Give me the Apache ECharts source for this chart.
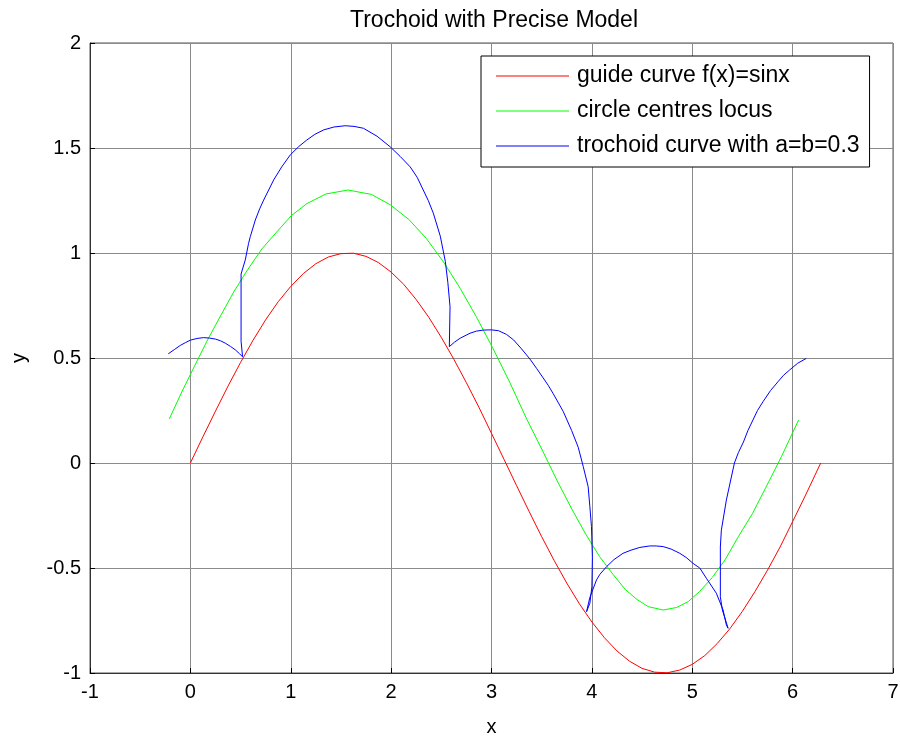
<!DOCTYPE html>
<html>
<head>
<meta charset="utf-8">
<script src="https://cdn.jsdelivr.net/npm/echarts@6/dist/echarts.min.js"></script>
<style>
html,body{margin:0;padding:0;background:#fff;}
#chart{width:900px;height:738px;}
</style>
</head>
<body>
<div id="chart"></div>
<script>
// Guide curve f(x)=sinx
const redX = [0, 0.125, 0.25, 0.375, 0.5, 0.625, 0.75, 0.875, 1.0, 1.125, 1.25, 1.375, 1.5, 1.625, 1.75, 1.875, 2.0, 2.125, 2.25, 2.375, 2.5, 2.625, 2.75, 2.875, 3.0, 3.125, 3.25, 3.375, 3.5, 3.625, 3.75, 3.875, 4.0, 4.125, 4.25, 4.375, 4.5, 4.625, 4.75, 4.875, 5.0, 5.125, 5.25, 5.375, 5.5, 5.625, 5.75, 5.875, 6.0, 6.125, 6.28];
const redY = [0, 0.125, 0.247, 0.366, 0.479, 0.585, 0.682, 0.768, 0.841, 0.902, 0.949, 0.981, 0.997, 0.999, 0.984, 0.954, 0.909, 0.851, 0.778, 0.694, 0.598, 0.494, 0.382, 0.265, 0.141, 0.017, -0.108, -0.231, -0.351, -0.465, -0.572, -0.670, -0.757, -0.832, -0.895, -0.944, -0.978, -0.996, -0.999, -0.986, -0.959, -0.917, -0.859, -0.789, -0.706, -0.612, -0.510, -0.400, -0.279, -0.157, 0];

// Circle centres locus
const greenX = [-0.21, -0.086, 0.04, 0.171, 0.30, 0.436, 0.57, 0.713, 0.86, 1.006, 1.16, 1.35, 1.57, 1.803, 1.99, 2.176, 2.35, 2.522, 2.69, 2.848, 3.01, 3.181, 3.35, 3.511, 3.66, 3.80, 3.94, 4.076, 4.21, 4.332, 4.45, 4.562, 4.71, 4.845, 4.96, 5.073, 5.20, 5.327, 5.46, 5.601, 5.74, 5.89, 6.06];
const greenY = [0.21, 0.338, 0.46, 0.586, 0.70, 0.818, 0.92, 1.02, 1.10, 1.178, 1.235, 1.281, 1.30, 1.279, 1.23, 1.16, 1.07, 0.957, 0.83, 0.697, 0.55, 0.385, 0.21, 0.056, -0.09, -0.219, -0.34, -0.445, -0.53, -0.602, -0.65, -0.684, -0.70, -0.688, -0.66, -0.612, -0.545, -0.461, -0.35, -0.24, -0.11, 0.032, 0.205];

// Trochoid curve with a=b=0.3
const blueX = [-0.22, -0.16, -0.1, -0.05, 0.0, 0.065, 0.13, 0.19, 0.25, 0.30, 0.35, 0.40, 0.45, 0.49, 0.52,
  0.505, 0.505, 0.547, 0.58, 0.597, 0.647, 0.69, 0.73, 0.78, 0.83, 0.91, 0.995, 1.08, 1.16, 1.24, 1.327, 1.43, 1.542, 1.63, 1.724, 1.86, 1.99, 2.09, 2.19, 2.26, 2.32, 2.37, 2.42, 2.49, 2.54, 2.565, 2.587,
  2.58, 2.57, 2.63, 2.687, 2.786, 2.85, 2.92, 3.0, 3.07, 3.15, 3.22, 3.30, 3.383, 3.45, 3.515, 3.565, 3.615, 3.715, 3.798, 3.864, 3.914, 3.963, 3.98, 3.996, 4.005, 4.0, 3.98, 3.947,
  3.98, 4.046, 4.08, 4.146, 4.22, 4.31, 4.39, 4.478, 4.577, 4.64, 4.71, 4.79, 4.876, 4.94, 5.008, 5.075, 5.141, 5.24, 5.307, 5.34, 5.357,
  5.30, 5.28, 5.28, 5.29, 5.34, 5.42, 5.46, 5.51, 5.555, 5.605, 5.65, 5.705, 5.78, 5.854, 5.91, 5.97, 6.05, 6.136];
const blueY = [0.52, 0.54, 0.56, 0.573, 0.585, 0.593, 0.597, 0.595, 0.59, 0.582, 0.57, 0.555, 0.538, 0.52, 0.506,
  0.58, 0.90, 0.967, 1.046, 1.078, 1.157, 1.21, 1.252, 1.30, 1.348, 1.41, 1.467, 1.507, 1.538, 1.565, 1.586, 1.60, 1.606, 1.603, 1.594, 1.556, 1.506, 1.46, 1.41, 1.36, 1.30, 1.25, 1.19, 1.08, 0.96, 0.86, 0.744,
  0.554, 0.546, 0.575, 0.594, 0.618, 0.628, 0.633, 0.634, 0.63, 0.612, 0.586, 0.543, 0.495, 0.45, 0.405, 0.37, 0.33, 0.245, 0.155, 0.075, -0.017, -0.113, -0.208, -0.303, -0.45, -0.59, -0.668, -0.708,
  -0.64, -0.557, -0.53, -0.494, -0.46, -0.43, -0.415, -0.402, -0.395, -0.395, -0.398, -0.41, -0.43, -0.45, -0.478, -0.50, -0.549, -0.62, -0.70, -0.771, -0.787,
  -0.70, -0.637, -0.40, -0.32, -0.176, 0.0, 0.05, 0.10, 0.155, 0.205, 0.25, 0.292, 0.345, 0.387, 0.418, 0.443, 0.475, 0.498];

const xTicks = {min: -1, max: 7, interval: 1};
const yTicks = {min: -1, max: 2, interval: 0.5};

function pairs(xs, ys) { return xs.map((x, i) => [x, ys[i]]); }

const chart = echarts.init(document.getElementById('chart'), null, {renderer: 'canvas'});
const font = 'Liberation Sans, Arial, Helvetica, sans-serif';
chart.setOption({
  animation: false,
  backgroundColor: '#fff',
  title: {
    text: 'Trochoid with Precise Model',
    left: 489, top: 4, textAlign: 'center',
    textStyle: {fontFamily: font, fontSize: 23, fontWeight: 'normal', color: '#000'}
  },
  grid: {left: 90, right: 7, top: 43, bottom: 65, show: true, borderColor: '#555', borderWidth: 1,
    backgroundColor: 'transparent', outerBoundsMode: 'none', containLabel: false},
  legend: {
    orient: 'vertical',
    left: 481, top: 56,
    padding: [8, 10, 9, 15],
    itemWidth: 73, itemHeight: 1, itemGap: 11,
    icon: 'rect',
    backgroundColor: '#fff',
    borderColor: '#000', borderWidth: 1,
    textStyle: {fontFamily: font, fontSize: 23, color: '#000', lineHeight: 24, padding: [0, 0, 0, 3]},
    data: ['guide curve f(x)=sinx', 'circle centres locus', 'trochoid curve with a=b=0.3']
  },
  xAxis: {
    type: 'value', min: xTicks.min, max: xTicks.max, interval: xTicks.interval,
    name: 'x', nameLocation: 'middle', nameGap: 44,
    nameTextStyle: {fontFamily: font, fontSize: 20, color: '#000'},
    axisLine: {show: true, onZero: false, lineStyle: {color: '#333', width: 1}},
    axisTick: {show: true, inside: true, length: 5, lineStyle: {color: '#000'}},
    axisLabel: {fontFamily: font, fontSize: 20, color: '#000', margin: 9},
    splitLine: {show: true, lineStyle: {color: '#8a8a8a', width: 1}}
  },
  yAxis: {
    type: 'value', min: yTicks.min, max: yTicks.max, interval: yTicks.interval,
    name: 'y', nameLocation: 'middle', nameGap: 61,
    nameTextStyle: {fontFamily: font, fontSize: 20, color: '#000'},
    axisLine: {show: true, onZero: false, lineStyle: {color: '#333', width: 1}},
    axisTick: {show: true, inside: true, length: 5, lineStyle: {color: '#000'}},
    axisLabel: {fontFamily: font, fontSize: 20, color: '#000', margin: 9},
    splitLine: {show: true, lineStyle: {color: '#8a8a8a', width: 1}}
  },
  series: [
    {name: 'guide curve f(x)=sinx', type: 'line', data: pairs(redX, redY), smooth: false, showSymbol: false,
     lineStyle: {color: '#ff0000', width: 1}, itemStyle: {color: '#ff0000'}},
    {name: 'circle centres locus', type: 'line', data: pairs(greenX, greenY), smooth: false, showSymbol: false,
     lineStyle: {color: '#00ff00', width: 1}, itemStyle: {color: '#00ff00'}},
    {name: 'trochoid curve with a=b=0.3', type: 'line', data: pairs(blueX, blueY), smooth: false, showSymbol: false,
     lineStyle: {color: '#0000ff', width: 1}, itemStyle: {color: '#0000ff'}}
  ]
});
</script>
</body>
</html>
